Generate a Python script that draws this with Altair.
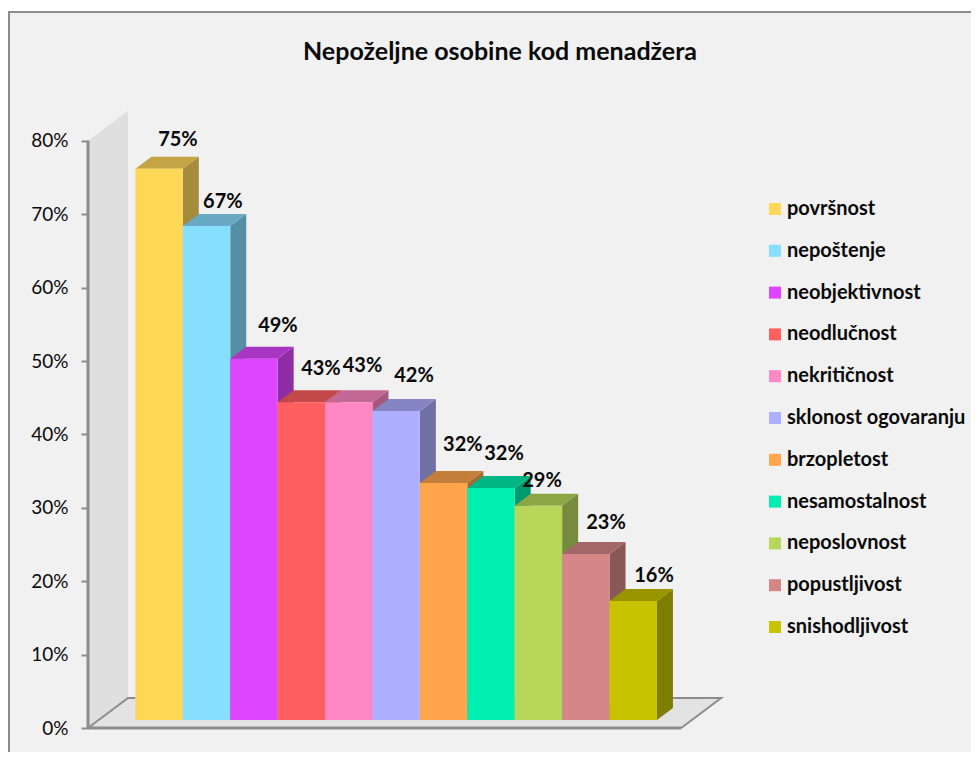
import altair as alt
import pandas as pd

TITLE = "Nepoželjne osobine kod menadžera"
names = ["površnost", "nepoštenje", "neobjektivnost", "neodlučnost", "nekritičnost",
         "sklonost ogovaranju", "brzopletost", "nesamostalnost", "neposlovnost",
         "popustljivost", "snishodljivost"]
values = [0.751, 0.673, 0.492, 0.433, 0.433, 0.421, 0.323, 0.316, 0.292, 0.226, 0.162]
front = ["#FFD757", "#87DFFF", "#DF45FF", "#FF5F5F", "#FF87C3", "#AFAFFF",
         "#FFA54B", "#00EFAF", "#B7D75B", "#D58787", "#C7C300"]
top = ["#C3A545", "#69A9C3", "#A935C3", "#C34848", "#C36795", "#8585C3",
       "#C37E3A", "#00B685", "#8CA546", "#A36767", "#989500"]
side = ["#A58B3B", "#558FA5", "#8F2DA5", "#A53D3D", "#A55780", "#7070A5",
        "#A56A30", "#009A70", "#768B3B", "#8A5757", "#807E00"]
# manual label placement, in pixels: centre from bar's left edge, rise above bar top
label_dx = [42.5, 40, 47.7, 43.3, 37.5, 41.5, 43, 36.7, 27.3, 43.9, 44.5]
label_rise = [29, 24, 33, 33, 36, 35, 38, 34, 25, 31, 25]

PX_X = 47.4        # pixels per bar
PX_Y = 734.0       # pixels per 100 %
BASE = 8 / PX_Y
DX, DY = 16 / PX_X, 12 / PX_Y
WX, WY = 40 / PX_X, 30 / PX_Y
X_MIN, X_MAX = -1.0, 12.33
Y_MAX = 617 / PX_Y
FLOOR_R = 11.51
GREY = "#8C8C8C"
INK = "#0A0A0A"

xs = alt.Scale(domain=[X_MIN, X_MAX], nice=False, zero=False)
ys = alt.Scale(domain=[0, Y_MAX], nice=False, zero=False)
X = lambda f="x": alt.X(f"{f}:Q", scale=xs, axis=None, title=None)
Y = lambda f="y": alt.Y(f"{f}:Q", scale=ys, title=None)

bars = pd.DataFrame({"name": names, "v": values, "front": front, "top": top, "side": side,
                     "i": range(len(names))})
bars["x"] = bars["i"].astype(float)
bars["x2"] = bars["x"] + 1
bars["y"] = bars["v"] + BASE
bars["y0"] = BASE

side_rows, top_rows = [], []
for r in bars.itertuples():
    for k in (0, 1):
        side_rows.append({"name": r.name, "c": r.side, "x": r.x2 + k * DX,
                          "y": BASE + k * DY, "y2": r.y + k * DY})
        top_rows.append({"name": r.name, "c": r.top, "x": r.x + k * DX, "x2": r.x2 + k * DX,
                         "y": r.y + k * DY})
side_df, top_df = pd.DataFrame(side_rows), pd.DataFrame(top_rows)

labels = pd.DataFrame({
    "t": [f"{round(v * 100)}%" for v in values],
    "x": [i + d / PX_X for i, d in enumerate(label_dx)],
    "y": [v + BASE + r / PX_Y for v, r in zip(values, label_rise)],
})

frame = alt.Chart(pd.DataFrame({"a": [0]})).mark_rect(
    fill="#F1F1F1", stroke=GREY, strokeWidth=2
).encode(x=alt.value(-79), x2=alt.value(1000), y=alt.value(-99), y2=alt.value(800))

wall = alt.Chart(pd.DataFrame({"x": [X_MIN, X_MIN + WX], "y": [0, WY], "y2": [0.8, 0.8 + WY]})).mark_area(
    color="#DFDFDF").encode(x=X(), y=Y(), y2="y2:Q")
floor = alt.Chart(pd.DataFrame({"y": [0, WY], "x": [X_MIN, X_MIN + WX],
                                "x2": [FLOOR_R, FLOOR_R + WX]})).mark_area(
    color="#E3E3E3", orient="horizontal").encode(x=X(), x2="x2:Q", y=Y())

edge_df = pd.DataFrame({
    "e": ["l", "l", "l", "r", "r", "r"],
    "o": [0, 1, 2, 0, 1, 2],
    "x": [X_MIN, X_MIN + WX, 0, 11 + DX, FLOOR_R + WX, FLOOR_R],
    "y": [0, WY, WY, WY, WY, 0],
})
edges = alt.Chart(edge_df).mark_line(color=GREY, strokeWidth=2).encode(
    x=X(), y=Y(), detail="e:N", order="o:Q")
front_edge = alt.Chart(pd.DataFrame({"x": [X_MIN], "x2": [FLOOR_R], "y": [0]})).mark_rule(
    color=GREY, strokeWidth=3).encode(x=X(), x2="x2:Q", y=Y())
axis_line = alt.Chart(pd.DataFrame({"x": [X_MIN], "y": [0], "y2": [0.8]})).mark_rule(
    color=GREY, strokeWidth=3).encode(x=X(), y=Y(), y2="y2:Q")

sides = alt.Chart(side_df).mark_area().encode(
    x=X(), y=Y(), y2="y2:Q", detail="name:N", color=alt.Color("c:N", scale=None))
tops = alt.Chart(top_df).mark_area(orient="horizontal").encode(
    x=X(), x2="x2:Q", y=Y(), detail="name:N", color=alt.Color("c:N", scale=None))

fronts = alt.Chart(bars).mark_rect().encode(
    x=X(), x2="x2:Q",
    y=alt.Y("y:Q", scale=ys, title=None,
            axis=alt.Axis(values=[i / 10 for i in range(9)], format=".0%", domain=False, grid=False,
                          tickColor=GREY, tickWidth=2, tickSize=7, zindex=1,
                          labelFont="Lato", labelFontSize=19, labelColor=INK, labelPadding=13)),
    y2="y0:Q",
    color=alt.Color("name:N", sort=names, scale=alt.Scale(domain=names, range=front),
                    legend=alt.Legend(orient="none", legendX=677, legendY=88, title=None,
                                      symbolType="square", symbolSize=144, symbolStrokeWidth=0,
                                      symbolOpacity=1, labelFont="Lato", labelFontWeight="bold",
                                      labelFontSize=20, labelColor=INK, labelOffset=2,
                                      labelLimit=300, rowPadding=21.8, padding=0)),
)

texts = alt.Chart(labels).mark_text(font="Lato", fontWeight="bold", fontSize=20, color=INK,
                                    baseline="middle", align="center").encode(
    x=X(), y=Y(), text="t:N")

chart = alt.layer(frame, wall, floor, edges, front_edge, axis_line, sides, tops, fronts, texts).resolve_scale(
    color="independent"
).properties(
    width=632, height=617,
    padding={"left": 80, "top": 103, "right": 251, "bottom": 24},
    autosize=alt.AutoSizeParams(type="none"),
    background="white",
    title=alt.TitleParams(TITLE, font="Lato", fontWeight="bold", fontSize=25, color=INK,
                          anchor="middle", dx=96, offset=-54),
).configure_view(stroke=None)

chart.save("out.html", embed_options={"renderer": "svg", "actions": False})
